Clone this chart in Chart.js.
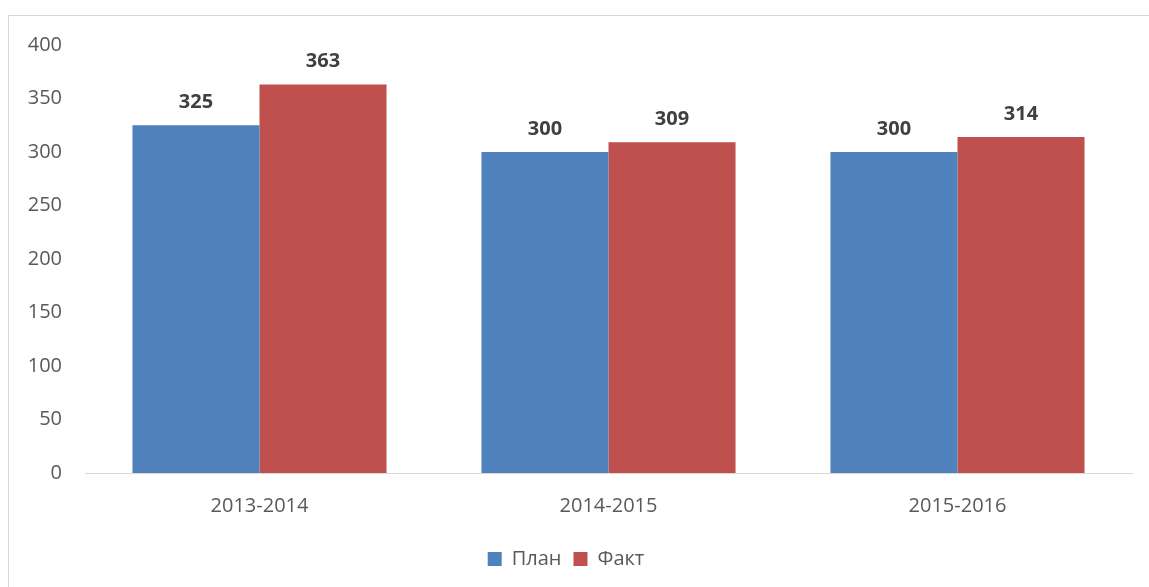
<!DOCTYPE html>
<html><head><meta charset="utf-8">
<script src="https://cdn.jsdelivr.net/npm/chart.js@4"></script>
<style>
html,body{margin:0;padding:0;background:#fff;overflow:hidden;width:1149px;height:587px;}
#frame{position:absolute;left:8px;top:15px;width:1300px;height:800px;border:1px solid #d9d9d9;box-sizing:border-box;}
#c{position:absolute;left:0;top:0;}
</style></head>
<body>
<div id="frame"></div>
<canvas id="c" width="1149" height="587"></canvas>
<script>
const categories = ["2013-2014", "2014-2015", "2015-2016"];
const planValues = [325, 300, 300];
const factValues = [363, 309, 314];
const seriesNames = ["План", "Факт"];

const FONT = "'Open Sans', 'DejaVu Sans', sans-serif";

const labelPlugin = {
  id: 'valueLabels',
  afterDatasetsDraw(chart) {
    const ctx = chart.ctx;
    ctx.save();
    ctx.font = "bold 20px " + FONT;
    ctx.fillStyle = "#404040";
    ctx.textAlign = "center";
    ctx.textBaseline = "bottom";
    chart.data.datasets.forEach((ds, i) => {
      const meta = chart.getDatasetMeta(i);
      meta.data.forEach((bar, j) => {
        ctx.fillText(String(ds.data[j]), bar.x, bar.y - 13);
      });
    });
    ctx.restore();
  }
};

new Chart(document.getElementById('c'), {
  type: 'bar',
  data: {
    labels: categories,
    datasets: [
      { label: seriesNames[0], data: planValues, backgroundColor: '#4F81BD', categoryPercentage: 0.728, barPercentage: 1.0 },
      { label: seriesNames[1], data: factValues, backgroundColor: '#C0504D', categoryPercentage: 0.728, barPercentage: 1.0 }
    ]
  },
  options: {
    responsive: false,
    animation: false,
    devicePixelRatio: 1,
    layout: { padding: { top: 45, right: 17, left: 0, bottom: 8 } },
    plugins: {
      tooltip: { enabled: false },
      legend: {
        position: 'bottom',
        labels: { boxWidth: 14, boxHeight: 14, padding: 12, color: '#595959', font: { family: FONT, size: 20 } }
      }
    },
    scales: {
      x: {
        afterFit(scale) { scale.height = 64; },
        grid: { display: false, drawTicks: false },
        border: { display: true, color: '#d9d9d9', width: 1 },
        ticks: { color: '#595959', font: { family: FONT, size: 20 }, padding: 21 }
      },
      y: {
        min: 0, max: 400,
        afterFit(scale) { scale.width = 85; },
        grid: { display: false, drawTicks: false },
        border: { display: false },
        ticks: { stepSize: 50, color: '#595959', font: { family: FONT, size: 20 }, padding: 23 }
      }
    }
  },
  plugins: [labelPlugin]
});
</script>
</body></html>
